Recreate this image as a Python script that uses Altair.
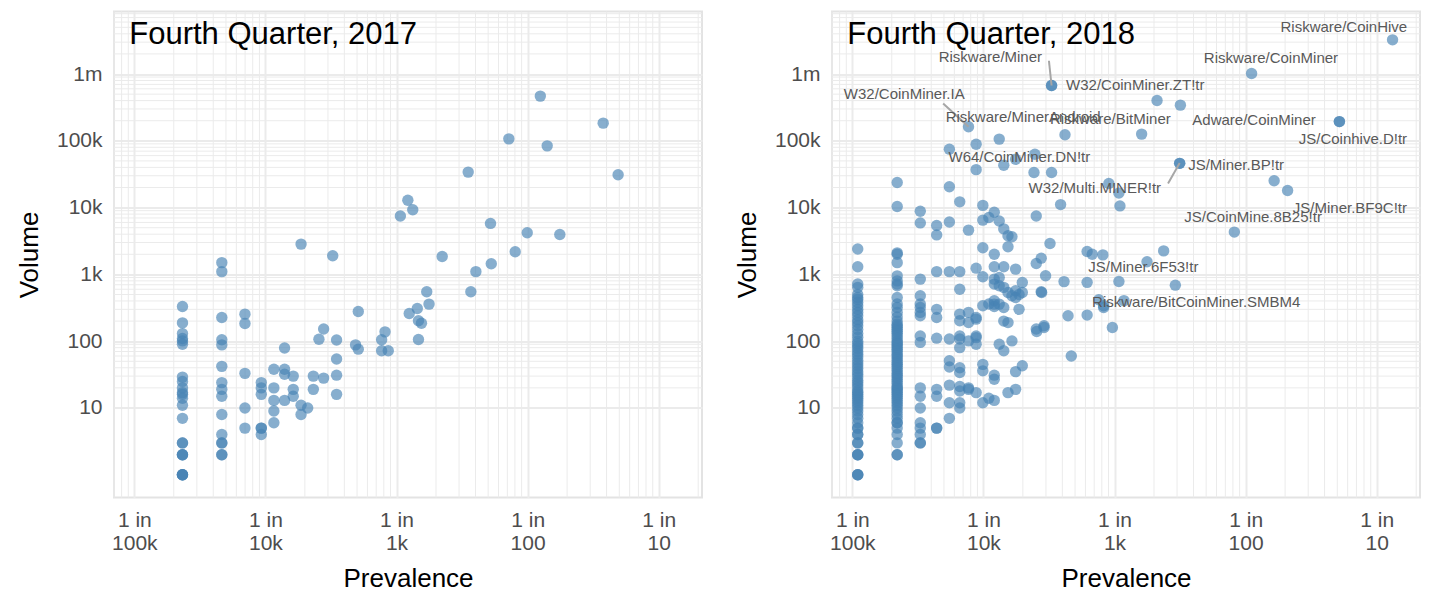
import math
import altair as alt
import pandas as pd

# ---------------- data ----------------
# 2017: prevalence columns and the volumes observed at each
prev17 = [2.33e-5, 4.65e-5, 6.98e-5, 9.3e-5, 1.16e-4, 1.4e-4, 1.63e-4, 1.87e-4, 2.1e-4,
          2.32e-4, 2.56e-4, 2.78e-4, 3.26e-4, 3.49e-4, 4.87e-4, 5.11e-4, 7.7e-4, 8.17e-4,
          8.65e-4, 1.07e-3, 1.22e-3, 1.25e-3, 1.33e-3, 1.44e-3, 1.47e-3, 1.55e-3, 1.7e-3,
          1.77e-3, 2.23e-3, 3.52e-3, 3.69e-3, 4.03e-3, 5.21e-3, 5.28e-3, 7.19e-3, 8.04e-3,
          9.93e-3, 1.25e-2, 1.41e-2, 1.76e-2, 3.77e-2, 4.9e-2]
vols17 = [
    [330, 188, 130, 110, 101, 90, 29, 25, 20, 17, 16, 14, 11, 7, 3, 3, 2, 2, 2, 1, 1, 1, 1],
    [1500, 1100, 226, 105, 88, 42, 24, 19, 15, 8, 4, 3, 3, 2, 2],
    [254, 184, 33, 10, 5],
    [24, 20, 16, 5, 5, 4],
    [38, 20, 13, 9, 6],
    [79, 38, 32, 13],
    [30, 19, 15],
    [2840, 11, 8],
    [10],
    [30, 19],
    [107],
    [152, 28],
    [1900],
    [104, 54, 31, 16],
    [88],
    [279, 76],
    [105, 72],
    [138],
    [72],
    [7500],
    [12900],
    [260],
    [9300],
    [309],
    [202, 106],
    [186],
    [549],
    [359],
    [1850],
    [34000],
    [549],
    [1100],
    [5800],
    [1440],
    [107000],
    [2180],
    [4200],
    [467000],
    [84000],
    [3960],
    [184000],
    [31000],
]

# 2018: prevalence columns (low prevalence) and volumes
prev18 = [1.1e-5, 2.2e-5, 3.3e-5, 4.4e-5, 5.5e-5, 6.6e-5, 7.7e-5, 8.8e-5, 9.9e-5, 1.1e-4,
          1.21e-4, 1.32e-4, 1.43e-4, 1.54e-4, 1.65e-4, 1.76e-4, 1.87e-4, 1.98e-4]
vols18 = [
    [2400, 1300, 720, 640, 500, 450, 420, 380, 340, 300, 270, 240, 210, 190, 170, 150, 130,
     115, 100, 92, 85, 78, 70, 64, 58, 52, 47, 43, 39, 35, 32, 29, 26, 24, 22, 20, 18, 17,
     16, 15, 14, 13, 12, 11, 10, 9, 8, 7, 6, 5, 5, 4, 4, 3, 3, 2, 2, 2, 1, 1, 1],
    [23800, 10400, 2100, 2000, 1500, 950, 800, 720, 675, 450, 360, 320, 270, 230, 200, 180,
     170, 160, 150, 140, 130, 120, 110, 100, 95, 90, 85, 80, 75, 70, 64, 60, 56, 52, 48, 45,
     42, 39, 36, 33, 31, 29, 27, 25, 23, 21, 20, 19, 18, 17, 16, 15, 14, 13, 12, 11, 10, 9,
     8, 7, 6, 6, 5, 4, 3, 2, 2],
    [8800, 5900, 850, 480, 360, 320, 270, 240, 120, 96, 20, 15, 10, 6, 5, 4, 3, 3],
    [5400, 3900, 1100, 300, 226, 111, 19, 15, 5, 5],
    [75000, 20500, 6100, 1100, 108, 51, 41, 22, 12, 7],
    [12200, 1100, 600, 254, 202, 120, 108, 80, 40, 34, 21, 18, 12, 10],
    [162000, 4600, 270, 190, 101, 20, 19],
    [89000, 37000, 1240, 226, 214, 120, 113, 90, 17],
    [10800, 6500, 2500, 920, 340, 45, 36, 12],
    [7100, 360, 14],
    [8500, 2000, 1300, 850, 716, 403, 359, 330, 31, 27, 13],
    [106000, 6300, 900, 675, 359, 90],
    [43000, 4800, 1300, 640, 320, 200, 72],
    [3800, 2600, 536, 190, 17],
    [3660, 478, 101],
    [53000, 1200, 568, 451, 35, 19],
    [500, 300],
    [757, 536, 43],
]
# 2018: remaining individual points
extra18_prev = [2.43e-4, 2.47e-4, 2.53e-4, 2.53e-4, 2.53e-4, 2.55e-4, 2.76e-4, 2.78e-4, 2.76e-4,
                2.9e-4, 2.9e-4, 2.98e-4, 3.22e-4, 3.31e-4, 3.31e-4, 3.31e-4, 3.88e-4, 4.12e-4,
                4.19e-4, 4.42e-4, 4.68e-4, 6.18e-4, 6.18e-4, 6.18e-4, 6.76e-4, 8.15e-4, 8.26e-4,
                7.59e-4, 8.27e-4, 9.05e-4, 9.63e-4, 1.08e-3, 1.08e-3, 1.1e-3, 1.18e-3, 1.61e-3,
                1.77e-3, 2.11e-3, 2.37e-3, 2.91e-3, 3.14e-3, 3.14e-3, 3.18e-3, 8.2e-3, 1.11e-2,
                1.65e-2, 2.09e-2, 5.19e-2, 5.19e-2, 0.132]
extra18_vol = [33600, 63000, 7500, 1460, 152, 140, 1750, 536, 549,
               170, 160, 953, 2900, 33600, 673000, 673000, 11100, 780,
               123000, 240, 60, 2200, 760, 246, 2000, 1960, 320,
               417, 339, 23000, 160, 16500, 783, 10600, 405, 126000,
               1550, 401000, 2250, 690, 46000, 46000, 342000, 4300, 1020000,
               25200, 18000, 194000, 194000, 3250000]

# 2018 labels (text and where they sit)
lab_text = ["Riskware/CoinHive", "Riskware/CoinMiner", "W32/CoinMiner.ZT!tr",
            "Riskware/MinerAndroid", "Riskware/BitMiner", "Adware/CoinMiner",
            "JS/Coinhive.D!tr", "JS/Miner.BP!tr", "W32/Multi.MINER!tr", "JS/Miner.BF9C!tr",
            "JS/CoinMine.8B25!tr", "JS/Miner.6F53!tr", "Riskware/BitCoinMiner.SMBM4",
            "Riskware/Miner", "W32/CoinMiner.IA", "W64/CoinMiner.DN!tr"]
lab_prev = [0.0561, 0.0156, 1.44e-3, 2.01e-4, 9.29e-4, 0.01159, 0.0658, 8.46e-3, 7.08e-4,
            0.0624, 0.0114, 1.66e-3, 4.2e-3, 1.13e-4, 2.49e-5, 1.88e-4]
lab_vol = [5.09e6, 1.73e6, 6.89e5, 2.29e5, 2.11e5, 2.04e5, 1.08e5, 43300, 20000, 10000,
           7280, 1270, 380, 1.77e6, 5.1e5, 58200]

# 2018 label connector segments (from label side to point)
seg_prev = [3.16e-4, 4.93e-5, 3.14e-3]
seg_vol = [1.58e6, 3.62e5, 46400]
seg_prev2 = [3.31e-4, 7.7e-5, 2.56e-3]
seg_vol2 = [6.73e5, 1.62e5, 22900]

titles = ["Fourth Quarter, 2017", "Fourth Quarter, 2018"]
title_prev = 9.15e-6
title_vol = 2.86e6

x_ticks = [1e-5, 1e-4, 1e-3, 1e-2, 1e-1]
x_tick_labels = ["1 in\n100k", "1 in\n10k", "1 in\n1k", "1 in\n100", "1 in\n10"]
y_ticks = [10, 100, 1000, 1e4, 1e5, 1e6]
y_tick_labels = ["10", "100", "1k", "10k", "100k", "1m"]

# ---------------- styling ----------------
FONT = "Liberation Sans"
STEEL = "#4682B4"
GRID = "#EBEBEB"
X_DOMAIN = [7.0e-6, 0.2138]
Y_DOMAIN = [0.457, 8.63e6]
W, H = 588, 486


def label_expr(values, labels, multiline=False):
    def lit(s):
        if multiline:
            return "[" + ", ".join("'" + p + "'" for p in s.split("\n")) + "]"
        return "'" + s + "'"
    expr = lit(labels[-1])
    for i in range(len(values) - 2, -1, -1):
        thr = math.sqrt(values[i] * values[i + 1])
        expr = f"datum.value < {thr} ? {lit(labels[i])} : ({expr})"
    return expr


def flatten(ps, vs):
    rows = []
    for p, lst in zip(ps, vs):
        for v in lst:
            rows.append({"prev": p, "vol": v})
    return pd.DataFrame(rows)


pts17 = flatten(prev17, vols17)
pts18 = pd.concat([flatten(prev18, vols18),
                   pd.DataFrame({"prev": extra18_prev, "vol": extra18_vol})],
                  ignore_index=True)
labels18 = pd.DataFrame({"prev": lab_prev, "vol": lab_vol, "t": lab_text})
segs18 = pd.DataFrame({"prev": seg_prev, "vol": seg_vol, "prev2": seg_prev2, "vol2": seg_vol2})

# minor grid positions (log scale 2..9 per decade)
minor_x = [k * 10.0 ** d for d in range(-6, 0) for k in range(2, 10)]
minor_x = [v for v in minor_x if X_DOMAIN[0] <= v <= X_DOMAIN[1]]
minor_y = [k * 10.0 ** d for d in range(1, 7) for k in range(2, 10)]
minor_y = [v for v in minor_y if v <= Y_DOMAIN[1]]
gx_df = pd.DataFrame({"prev": minor_x})
gy_df = pd.DataFrame({"vol": minor_y})

x_axis = alt.Axis(values=x_ticks, labelExpr=label_expr(x_ticks, x_tick_labels, True),
                  grid=True, gridColor=GRID, gridWidth=2, ticks=False, tickSize=0,
                  domain=False, labelFont=FONT, labelFontSize=21, labelColor="#4D4D4D",
                  labelLineHeight=23.4, labelPadding=12, labelBaseline="top",
                  labelFlush=False, labelOverlap=False,
                  titleFont=FONT, titleFontSize=26, titleFontWeight="normal",
                  titleColor="black", titlePadding=12)
y_axis = alt.Axis(values=y_ticks, labelExpr=label_expr(y_ticks, y_tick_labels),
                  grid=True, gridColor=GRID, gridWidth=2, ticks=False, tickSize=0,
                  domain=False, labelFont=FONT, labelFontSize=21, labelColor="#4D4D4D",
                  labelPadding=12, labelFlush=False, labelOverlap=False,
                  titleFont=FONT, titleFontSize=26, titleFontWeight="normal",
                  titleColor="black", titlePadding=13.5)

xs = alt.Scale(type="log", domain=X_DOMAIN, nice=False)
ys = alt.Scale(type="log", domain=Y_DOMAIN, nice=False)


def X(field):
    return alt.X(field, type="quantitative", scale=xs, axis=x_axis, title="Prevalence")


def Y(field):
    return alt.Y(field, type="quantitative", scale=ys, axis=y_axis, title="Volume")


def panel(points, title_text, labels=None, segs=None):
    gx = alt.Chart(gx_df).mark_rule(color=GRID, strokeWidth=1).encode(x=X("prev"))
    gy = alt.Chart(gy_df).mark_rule(color=GRID, strokeWidth=1).encode(y=Y("vol"))
    pts = alt.Chart(points).mark_circle(size=130, color=STEEL, opacity=0.65).encode(
        x=X("prev"), y=Y("vol"))
    layers = [gx, gy, pts]
    if segs is not None:
        layers.append(alt.Chart(segs).mark_rule(color="#A6A6A6", strokeWidth=2).encode(
            x=X("prev"), y=Y("vol"), x2="prev2:Q", y2="vol2:Q"))
    if labels is not None:
        layers.append(alt.Chart(labels).mark_text(
            font=FONT, fontSize=15, color="#595959", align="center", baseline="middle"
        ).encode(x=X("prev"), y=Y("vol"), text="t:N"))
    ttl_df = pd.DataFrame({"prev": [title_prev], "vol": [title_vol], "t": [title_text]})
    layers.append(alt.Chart(ttl_df).mark_text(
        font=FONT, fontSize=31, color="black", align="left", baseline="alphabetic"
    ).encode(x=X("prev"), y=Y("vol"), text="t:N"))
    return alt.layer(*layers).properties(width=W, height=H)


left = panel(pts17, titles[0])
right = panel(pts18, titles[1], labels18, segs18)

chart = alt.hconcat(left, right, spacing=29).properties(
    padding={"left": 15, "top": 9.5, "right": 0, "bottom": 0},
    background="white",
).configure_view(stroke="#E3E3E3", strokeWidth=2)

chart.save("out.html", embed_options={"renderer": "svg", "actions": False})
